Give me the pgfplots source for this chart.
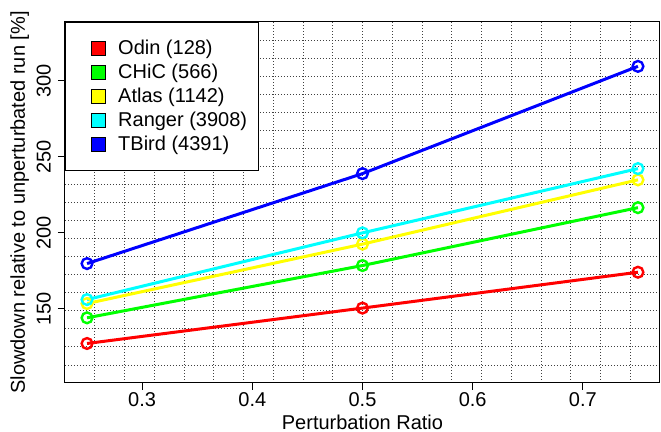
\documentclass[border=0pt]{standalone}
\usepackage{fontspec}
\setmainfont{Liberation Sans}
\usepackage{pgfplots}
\pgfplotsset{compat=1.18}

\definecolor{rred}{RGB}{255,0,0}
\definecolor{rgreen}{RGB}{0,255,0}
\definecolor{ryellow}{RGB}{255,255,0}
\definecolor{rcyan}{RGB}{0,255,255}
\definecolor{rblue}{RGB}{0,0,255}

\pgfplotsset{
  sq/.style={legend image code/.code={
    \path (0pt,0pt);
    \draw[black, line width=0.4pt, fill=#1, solid] (8.5pt,-3.7pt) rectangle (15.9pt,3.7pt);}},
  ser/.style={color=#1, line width=1.5pt, mark=o, mark size=2.7pt,
    mark options={line width=1.2pt, solid}, sq=#1},
}

\begin{document}
\begin{tikzpicture}
\useasboundingbox (-32.5pt,-24.5pt) rectangle (298pt,191.5pt);
\begin{axis}[
  at={(0,0)}, anchor=south west,
  scale only axis, width=297.5pt, height=180.5pt,
  xmin=0.23, xmax=0.77, ymin=101.2, ymax=338.8,
  xtick={0.3,0.4,0.5,0.6,0.7}, ytick={150,200,250,300},
  minor xtick={0.257,0.284,...,0.744},
  minor ytick={113.08,124.96,...,327},
  grid=minor,
  minor grid style={black!75, line width=0.4pt, dash pattern=on 0.4pt off 1.1pt},
  minor tick length=0pt,
  tick align=outside, major tick length=3.5pt,
  xtick pos=left, ytick pos=left,
  tick style={black, line width=0.5pt},
  axis line style={line width=0.5pt},
  /pgf/number format/assume math mode=true,
  xticklabel style={/pgf/number format/fixed, /pgf/number format/precision=1, yshift=2.5pt},
  yticklabel style={rotate=90, anchor=south},
  ticklabel style={font=\fontsize{10}{12}\selectfont},
  label style={font=\fontsize{10}{12}\selectfont},
  xlabel={Perturbation Ratio},
  ylabel={Slowdown relative to unperturbated run [\%]},
  every axis x label/.style={at={(rel axis cs:0.5,0)}, anchor=north, yshift=-12.5pt},
  every axis y label/.style={at={(rel axis cs:0,0.5)}, xshift=-14.5pt, rotate=90, anchor=south},
  legend style={at={(0,1)}, anchor=north west, draw=black, line width=0.5pt,
    fill=white, inner xsep=3.5pt, inner ysep=6.5pt, row sep=-1pt,
    font=\fontsize{10}{12}\selectfont,
    cells={anchor=west, inner ysep=1pt, text height=7.5pt, text depth=2.5pt},
    /tikz/every odd column/.append style={column sep=4pt}},
  legend cell align=left,
]
\addplot[ser=rred] coordinates {(0.25,127.2) (0.5,150.5) (0.75,174.1)};
\addplot[ser=rgreen] coordinates {(0.25,144.1) (0.5,178.5) (0.75,216.6)};
\addplot[ser=ryellow] coordinates {(0.25,153.5) (0.5,192.6) (0.75,234.9)};
\addplot[ser=rcyan] coordinates {(0.25,156.1) (0.5,200.0) (0.75,242.3)};
\addplot[ser=rblue] coordinates {(0.25,179.8) (0.5,239.0) (0.75,309.6)};
\legend{Odin (128), CHiC (566), Atlas (1142), Ranger (3908), TBird (4391)}
\end{axis}
\end{tikzpicture}
\end{document}
